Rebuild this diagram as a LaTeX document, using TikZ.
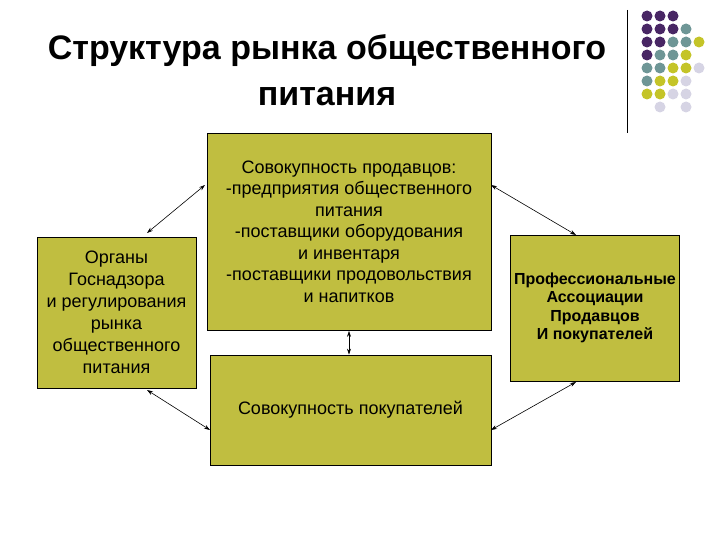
\documentclass[tikz,border=0pt]{standalone}
\usepackage{fontspec}
\setmainfont{Liberation Sans}
\definecolor{olv}{RGB}{192,190,64}
\definecolor{dP}{RGB}{72,38,100}
\definecolor{dT}{RGB}{110,150,150}
\definecolor{dY}{RGB}{196,196,40}
\definecolor{dL}{RGB}{214,212,228}
\tikzset{box/.style={draw=black,fill=olv,line width=0.8pt,align=center,font=\fontsize{18}{22}\selectfont},
conn/.style={<->,>={Stealth[length=6pt,width=4pt]},line width=0.6pt},
dot/.style={circle,inner sep=0pt,minimum size=11pt}}
\usetikzlibrary{arrows.meta}
\def\nn{N}
\begin{document}
\begin{tikzpicture}[x=1pt,y=-1pt]
\useasboundingbox (0,0) rectangle (720,540);
\node[font=\bfseries\fontsize{34}{46}\selectfont,align=center] (title) at (327,70) {Структура рынка общественного\\питания};
\draw[line width=0.8pt] (627,10) -- (627,133);
\foreach \r/\row in {0/{P,P,P},1/{P,P,P,T},2/{P,P,T,T,Y},3/{P,T,T,Y},4/{T,T,Y,Y,L},5/{T,Y,Y,L},6/{Y,Y,L,L},7/{N,L,N,L}}{
  \foreach \c [count=\i from 0] in \row {
    \ifx\c\nn\else
    \node[dot,fill=d\c] (d\r\i) at (647+13*\i,16+13*\r) {};
    \fi
  }
}
\node[box,minimum width=159pt,minimum height=151pt] (L) at (116.5,312.5) {Органы\\Госнадзора\\и регулирования\\рынка\\общественного\\питания};
\node[box,minimum width=284pt,minimum height=197pt,anchor=north west] (T) at (207,133) {};
\node[align=center,font=\fontsize{18}{21.5}\selectfont,anchor=north] (Tt) at (349,157) {Совокупность продавцов:\\-предприятия общественного\\питания\\-поставщики оборудования\\и инвентаря\\-поставщики продовольствия\\и напитков};
\node[box,minimum width=281pt,minimum height=110pt] (B) at (350.5,410) {Совокупность покупателей};
\node[box,minimum width=162pt,minimum height=146pt,font=\bfseries\fontsize{16}{18.5}\selectfont] (R) at (595,308) {Профессиональные\\Ассоциации\\Продавцов\\И покупателей};
\coordinate (a1) at (147,233); \coordinate (a2) at (205,185);
\coordinate (b1) at (147,390); \coordinate (b2) at (210,430);
\coordinate (c1) at (491,185); \coordinate (c2) at (576,235);
\coordinate (e1) at (491,430); \coordinate (e2) at (576,382);
\draw[conn] (a1) -- (a2);
\draw[conn] (b1) -- (b2);
\draw[conn] (c1) -- (c2);
\draw[conn] (e1) -- (e2);
\draw[conn] (T.south -| 349,0) -- (B.north -| 349,0);
\end{tikzpicture}
\end{document}
